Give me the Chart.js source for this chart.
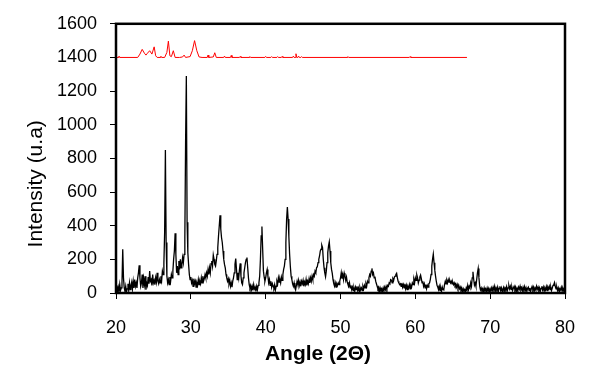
<!DOCTYPE html>
<html>
<head>
<meta charset="utf-8">
<script src="https://cdn.jsdelivr.net/npm/chart.js@4/dist/chart.umd.min.js"></script>
<style>
  body { margin: 0; background: #fff; }
  canvas { display: block; }
</style>
</head>
<body>
<canvas id="xrdChart" width="602" height="384"></canvas>
<script>
// Patrón de difracción (muestra, negro): barrido 20-80 grados, paso 0.1
const angleStart = 20;
const angleStep = 0.1;
const sampleIntensity = [
    20, 45, 10, 35, 5, 50, 15, 30, 60, 260,        // 20
    90, 30, 10, 40, 5, 25, 55, 15, 60, 20,         // 21
    45, 65, 25, 70, 30, 80, 40, 60, 30, 90,        // 22
    120, 165, 90, 40, 60, 110, 30, 85, 50, 100,    // 23
    20, 60, 45, 95, 55, 130, 70, 80, 45, 110,      // 24
    60, 75, 50, 90, 65, 120, 70, 55, 80, 60,       // 25
    100, 75, 130, 110, 180, 360, 850, 300, 100, 60, // 26
    80, 50, 95, 70, 110, 90, 130, 200, 250, 355,   // 27
    230, 120, 160, 110, 190, 140, 200, 150, 170, 210, // 28
    180, 230, 330, 900, 1290, 420, 240, 170, 110, 80, // 29
    95, 60, 75, 40, 85, 55, 70, 35, 60, 45,        // 30
    80, 50, 70, 55, 90, 60, 100, 70, 85, 110,      // 31
    90, 120, 100, 140, 110, 150, 120, 175, 190, 160, // 32
    225, 200, 170, 160, 190, 230, 270, 340, 400, 462, // 33
    380, 330, 300, 250, 200, 170, 150, 110, 90, 70, // 34
    85, 55, 75, 40, 60, 35, 70, 90, 120, 170,      // 35
    205, 140, 80, 120, 90, 140, 176, 100, 60, 50,  // 36
    90, 120, 150, 180, 200, 211, 150, 90, 50, 30,  // 37
    45, 20, 40, 15, 50, 25, 35, 10, 40, 20,        // 38
    45, 60, 100, 200, 340, 395, 260, 130, 95, 70,  // 39
    90, 120, 140, 100, 60, 80, 45, 70, 35, 55,     // 40
    40, 30, 50, 18, 40, 70, 55, 90, 65, 80,        // 41
    60, 95, 75, 110, 140, 160, 200, 300, 440, 511, // 42
    440, 334, 230, 156, 100, 80, 55, 40, 60, 30,   // 43
    18, 45, 70, 50, 75, 45, 65, 40, 70, 55,        // 44
    75, 40, 65, 50, 80, 45, 70, 55, 85, 60,        // 45
    90, 70, 100, 80, 110, 100, 130, 120, 150, 156, // 46
    180, 200, 220, 250, 260, 284, 270, 200, 150, 120, // 47
    97, 130, 180, 240, 280, 304, 250, 180, 140, 117, // 48
    80, 55, 40, 60, 35, 55, 45, 60, 50, 70,        // 49
    90, 120, 85, 110, 80, 118, 100, 75, 95, 65,    // 50
    50, 40, 60, 30, 45, 20, 35, 15, 30, 10,        // 51
    35, 20, 40, 15, 30, 10, 35, 20, 30, 15,        // 52
    40, 25, 45, 30, 55, 40, 70, 60, 90, 110,       // 53
    100, 130, 146, 110, 120, 90, 97, 70, 55, 40,   // 54
    25, 35, 10, 30, 15, 25, 8, 30, 12, 35,         // 55
    20, 40, 25, 45, 40, 60, 55, 80, 77, 60,        // 56
    85, 75, 95, 100, 110, 117, 90, 70, 60, 50,     // 57
    55, 40, 60, 35, 50, 30, 55, 25, 45, 20,        // 58
    40, 30, 50, 25, 45, 35, 60, 50, 80, 60,        // 59
    90, 75, 107, 90, 60, 77, 95, 107, 85, 60,      // 60
    70, 40, 55, 30, 50, 25, 45, 35, 55, 60,        // 61
    80, 110, 160, 200, 231, 180, 136, 100, 70, 45, // 62
    35, 20, 40, 15, 30, 10, 35, 20, 18, 50,        // 63
    70, 55, 75, 60, 80, 65, 75, 60, 70, 55,        // 64
    65, 50, 60, 45, 55, 35, 50, 30, 45, 25,        // 65
    35, 15, 30, 10, 25, 8, 20, 10, 30, 15,         // 66
    45, 20, 40, 30, 60, 40, 90, 126, 80, 47,       // 67
    60, 40, 80, 120, 146, 90, 40, 18, 30, 10,      // 68
    25, 8, 30, 12, 25, 10, 30, 15, 28, 8,          // 69
    25, 10, 30, 15, 35, 20, 40, 12, 30, 18,        // 70
    35, 10, 28, 40, 15, 30, 8, 25, 35, 12,         // 71
    30, 20, 38, 15, 30, 45, 25, 40, 20, 35,        // 72
    15, 30, 40, 20, 35, 10, 28, 15, 35, 22,        // 73
    40, 18, 30, 12, 35, 20, 38, 15, 30, 10,        // 74
    28, 35, 15, 30, 8, 25, 38, 20, 35, 12,         // 75
    30, 18, 40, 22, 35, 15, 30, 10, 28, 40,        // 76
    18, 35, 12, 30, 20, 38, 15, 35, 25, 40,        // 77
    20, 35, 15, 30, 45, 50, 63, 40, 25, 35,        // 78
    15, 30, 10, 25, 20, 35, 12, 28, 15, 30,        // 79
    20                                             // 80
];

// Patrón de referencia (rojo), desplazado a 1400
const refAngle = [
    20.0, 20.3, 20.4, 20.5, 22.9, 23.2, 23.5, 23.8, 24.0, 24.2,
    24.5, 24.8, 25.1, 25.3, 25.5, 25.9, 26.0, 26.1, 26.5, 26.8,
    27.0, 27.2, 27.4, 27.66, 27.9, 28.5, 28.9, 29.1, 29.3, 29.9,
    30.2, 30.5, 30.8, 31.1, 31.5, 32.2, 32.3, 32.4, 33.0, 33.2,
    33.4, 34.4, 34.5, 34.6, 35.3, 35.4, 35.5, 36.5, 36.6, 36.7,
    37.8, 37.9, 38.0, 39.9, 40.0, 40.1, 40.7, 40.8, 40.9, 41.5,
    41.6, 41.7, 42.1, 42.2, 42.3, 43.6, 43.7, 43.8, 43.95, 44.05,
    44.15, 44.3, 44.4, 44.5, 44.7, 44.8, 44.9, 50.9, 51.0, 51.1,
    59.2, 59.3, 59.4, 66.9
];
const refIntensity = [
    1400, 1400, 1408, 1400, 1400, 1420, 1448, 1425, 1414, 1425,
    1440, 1420, 1463, 1410, 1400, 1400, 1407, 1400, 1400, 1430,
    1497, 1410, 1405, 1440, 1400, 1400, 1403, 1414, 1400, 1405,
    1440, 1500, 1440, 1403, 1400, 1400, 1414, 1400, 1403, 1428,
    1400, 1400, 1408, 1400, 1400, 1412, 1400, 1400, 1406, 1400,
    1400, 1405, 1400, 1400, 1406, 1400, 1400, 1405, 1400, 1400,
    1405, 1400, 1400, 1406, 1400, 1400, 1408, 1400, 1400, 1422,
    1400, 1400, 1408, 1400, 1400, 1405, 1400, 1400, 1405, 1400,
    1400, 1405, 1400, 1400
];

const xTicks = [20, 30, 40, 50, 60, 70, 80];
const yTicks = [0, 200, 400, 600, 800, 1000, 1200, 1400, 1600];

const samplePoints = sampleIntensity.map((v, i) => ({ x: angleStart + i * angleStep, y: v }));
const refPoints = refAngle.map((a, i) => ({ x: a, y: refIntensity[i] }));

// Marco del gráfico y títulos de ejes
const framePlugin = {
    id: 'frame',
    afterDraw(chart) {
        const { ctx, chartArea: a } = chart;
        ctx.save();
        ctx.strokeStyle = '#000';
        ctx.lineWidth = 2.5;
        ctx.strokeRect(a.left, a.top, a.right - a.left, a.bottom - a.top);

        ctx.fillStyle = '#000';
        ctx.textAlign = 'center';
        ctx.textBaseline = 'middle';
        ctx.font = 'bold 21px "Liberation Sans", Arial, sans-serif';
        ctx.fillText('Angle (2\u0398)', a.left + 202, a.bottom + 61);

        ctx.translate(36, a.top + 160);
        ctx.rotate(-Math.PI / 2);
        ctx.font = '21px "Liberation Sans", Arial, sans-serif';
        ctx.fillText('Intensity (u.a)', 0, 0);
        ctx.restore();
    }
};

const tickFont = { family: '"Liberation Sans", Arial, sans-serif', size: 18 };

new Chart(document.getElementById('xrdChart').getContext('2d'), {
    type: 'line',
    data: {
        datasets: [{
            data: refPoints,
            borderColor: '#ff0000',
            borderWidth: 1,
            pointRadius: 0,
            tension: 0
        }, {
            data: samplePoints,
            borderColor: '#000000',
            borderWidth: 1.3,
            pointRadius: 0,
            tension: 0
        }]
    },
    options: {
        responsive: false,
        animation: false,
        layout: { padding: { left: 0, top: 23, right: 37, bottom: 0 } },
        plugins: {
            legend: { display: false },
            tooltip: { enabled: false }
        },
        scales: {
            x: {
                type: 'linear',
                min: 20,
                max: 80,
                afterBuildTicks: s => { s.ticks = xTicks.map(v => ({ value: v })); },
                afterFit: s => { s.height = 91; },
                grid: { drawOnChartArea: false, drawTicks: true, tickLength: 6, tickColor: '#000', color: '#000' },
                border: { display: true, color: '#000', width: 2 },
                ticks: { color: '#000', font: tickFont, padding: 18, maxRotation: 0, callback: v => String(v) }
            },
            y: {
                min: 0,
                max: 1600,
                afterBuildTicks: s => { s.ticks = yTicks.map(v => ({ value: v })); },
                afterFit: s => { s.width = 116; },
                grid: { drawOnChartArea: false, drawTicks: true, tickLength: 6, tickColor: '#000', color: '#000' },
                border: { display: true, color: '#000', width: 2 },
                ticks: { color: '#000', font: tickFont, padding: 13, callback: v => String(v) }
            }
        }
    },
    plugins: [framePlugin]
});
</script>
</body>
</html>
